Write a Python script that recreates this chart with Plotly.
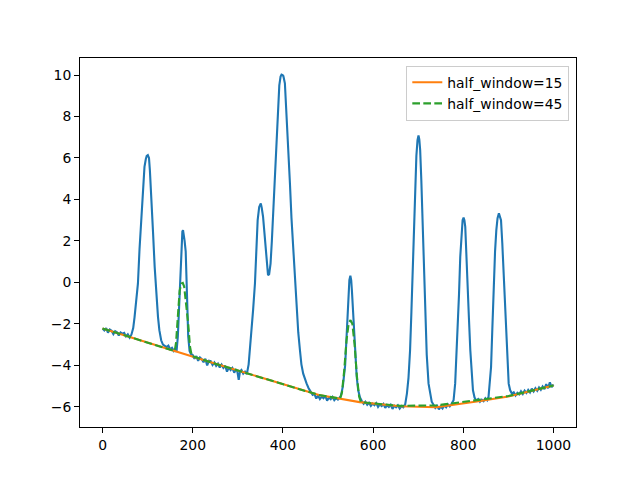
import plotly.graph_objects as go

# ---- data ----
signal_x = [0, 4, 8, 12, 16, 20, 24, 28, 32, 36, 40, 44, 48, 52, 56, 60, 64,
            68, 71, 75, 78.5, 82, 86, 90, 93, 96, 98, 100.5, 103, 105, 108, 112, 115.6, 119, 123, 126, 130, 134,
            138, 142, 146, 150, 154, 158, 161, 164,
            167, 170, 172, 175, 177, 178.5, 180, 182, 184.4, 186.5, 188, 190, 193, 196,
            200, 204, 208, 212, 216, 220, 224, 228, 232, 236, 240, 244, 248, 252, 256, 260, 264, 268,
            272, 276, 280, 284, 288, 292, 296, 299, 302, 305, 308, 312, 316, 320,
            324, 327, 330, 334, 338, 341.5, 344, 347.4, 351, 353, 356, 359, 362, 365, 367, 369.5, 372.6,
            375.5, 378.5, 381.5, 384.4, 387, 389.6, 392, 394.8, 397, 399.3, 401, 404.4, 407, 409.6,
            412.5, 415.6, 419, 423, 426.5, 430.4, 434, 437.8, 441, 445, 449, 452.6, 457, 462,
            466, 470, 474, 478, 482, 486, 490, 494, 498, 502, 506, 510, 514, 518, 522, 526,
            529, 533, 536, 538, 541, 543, 545.5, 547.4, 549.6, 551.5, 553, 555.5, 557.8, 560.5, 563.7, 567, 571,
            575, 579, 583, 587, 591, 595, 599, 603, 607, 611, 615, 619, 623, 627, 631, 635, 639, 643,
            647, 651, 655, 659, 663, 667, 671,
            675, 678.5, 682, 685, 688, 690.5, 693, 696, 698.5, 700.7, 702.5, 704.4, 707, 709.6, 712.5,
            715.6, 719, 723, 727, 730,
            734, 738, 742, 746, 750, 754, 758, 762, 766, 770, 774,
            778.5, 782, 785, 787.4, 790.5, 793.3, 796, 798.5, 800.7, 802.5, 804.4, 807, 809.6, 812.5,
            815.6, 818.5, 821.5, 825,
            829, 833, 837, 841, 845, 849, 853,
            856, 859, 861.6, 864.5, 867.4, 870.5, 873.3, 876, 879, 881.5, 883.7, 886.5, 889.6, 892.5,
            895.6, 898, 900.7, 904, 908,
            912, 916, 920, 924, 928, 932, 936, 940, 944, 948, 952, 956, 960, 964, 968, 972, 976, 980,
            984, 988, 992, 996, 1000]
signal_y = [-2.22, -2.31, -2.20, -2.42, -2.27, -2.33, -2.49, -2.35, -2.40, -2.56, -2.41, -2.47, -2.43, -2.60, -2.50, -2.66, -2.52,
            -2.20, -1.67, -0.90, -0.05, 1.60, 3.16, 4.70, 5.57, 5.95, 6.10, 6.14, 6.00, 5.40, 4.29, 2.40, 0.75, -0.60, -1.67, -2.30, -2.79, -3.00,
            -3.05, -3.12, -3.05, -3.22, -3.15, -3.30, -3.20, -3.35,
            -2.60, -1.00, 0.20, 2.00, 2.45, 2.52, 2.35, 2.00, 1.50, 0.00, -1.50, -2.60, -3.30, -3.45,
            -3.50, -3.68, -3.55, -3.78, -3.62, -3.70, -3.85, -3.68, -4.00, -3.78, -3.80, -3.98, -3.86, -4.02, -3.92, -4.10, -3.96, -4.12,
            -4.02, -4.30, -4.10, -4.22, -4.12, -4.35, -4.18, -4.30, -4.70, -4.28, -4.22, -4.40, -4.30, -4.42,
            -3.95, -3.27, -2.50, -1.30, -0.05, 2.00, 3.00, 3.64, 3.81, 3.60, 3.16, 2.40, 1.55, 0.70, 0.35, 0.40, 0.91,
            2.00, 3.48, 5.00, 6.38, 7.70, 8.79, 9.50, 9.92, 10.02, 10.00, 9.95, 9.60, 8.60, 7.19,
            6.00, 4.77, 3.10, 1.55, 0.10, -1.34, -2.40, -3.27, -3.95, -4.40, -4.70, -4.88, -5.10, -5.30,
            -5.42, -5.38, -5.60, -5.45, -5.62, -5.50, -5.58, -5.47, -5.70, -5.55, -5.63, -5.52, -5.68, -5.58, -5.65, -5.55,
            -5.45, -5.00, -4.40, -4.00, -2.70, -1.67, -0.50, 0.11, 0.32, 0.10, -0.38, -1.40, -2.47, -3.60, -4.56, -5.20, -5.55,
            -5.72, -5.85, -5.75, -5.90, -5.80, -5.95, -5.84, -5.92, -5.82, -6.00, -5.88, -5.96, -5.86, -6.05, -5.92, -6.00, -5.90, -6.10,
            -5.94, -6.02, -5.92, -6.08, -5.96, -6.02, -5.90,
            -5.36, -4.60, -3.27, -1.40, 0.75, 2.80, 4.77, 6.10, 6.86, 7.08, 6.90, 6.38, 4.90, 3.16, 0.90,
            -1.67, -3.50, -4.88, -5.50, -5.75,
            -5.90, -6.05, -5.95, -6.12, -5.98, -6.08, -5.92, -6.02, -5.88, -5.97, -5.85,
            -5.68, -4.88, -3.60, -2.47, -0.60, 1.23, 2.40, 3.00, 3.13, 3.00, 2.68, 1.50, -0.05, -1.70,
            -3.27, -4.40, -5.20, -5.55,
            -5.70, -5.62, -5.75, -5.65, -5.72, -5.58, -5.68,
            -5.52, -4.90, -4.08, -2.20, -0.05, 1.50, 2.52, 3.10, 3.33, 3.20, 3.00, 1.90, 0.27, -1.40,
            -2.95, -4.00, -4.88, -5.20, -5.36,
            -5.30, -5.45, -5.32, -5.40, -5.25, -5.38, -5.22, -5.33, -5.18, -5.30, -5.12, -5.26, -5.10, -5.22, -5.06, -5.18, -5.02, -5.14,
            -4.90, -5.10, -4.82, -5.05, -4.92]

hw15_x = [0, 240, 480, 570, 660, 740, 830, 900, 1000]
hw15_y = [-2.22, -3.85, -5.43, -5.77, -5.97, -6.02, -5.74, -5.50, -4.97]

hw45_x = [0, 160, 163, 167, 171, 175, 178, 181, 185, 190, 194, 198, 240, 480, 527, 531, 536, 541, 546, 550, 554, 559,
          564, 569, 573, 660, 740, 830, 900, 1000]
hw45_y = [-2.22, -3.31, -2.90, -1.50, -0.40, -0.05, -0.02, -0.20, -0.90, -2.00, -3.10, -3.55, -3.85, -5.43, -5.60, -5.30,
          -4.24, -2.80, -1.95, -1.82, -2.00, -3.00, -4.50, -5.50, -5.78, -5.95, -5.93, -5.68, -5.48, -4.97]

x_ticks = [0, 200, 400, 600, 800, 1000]
y_ticks = [-6, -4, -2, 0, 2, 4, 6, 8, 10]

FONT = "DejaVu Sans"

fig = go.Figure()
fig.add_trace(go.Scatter(x=signal_x, y=signal_y, mode="lines",
                         line=dict(color="#1f77b4", width=2.1), showlegend=False))
fig.add_trace(go.Scatter(x=hw15_x, y=hw15_y, mode="lines", name="half_window=15",
                         line=dict(color="#ff7f0e", width=2.1)))
fig.add_trace(go.Scatter(x=hw45_x, y=hw45_y, mode="lines", name="half_window=45",
                         line=dict(color="#2ca02c", width=2.1, dash="7.7px,3.3px")))

axis_common = dict(showgrid=False, zeroline=False, showline=True, linecolor="black", linewidth=1.1,
                   mirror=True, ticks="outside", ticklen=4.9, tickwidth=1.1, tickcolor="black",
                   tickfont=dict(family=FONT, size=13.9, color="black"))

fig.update_xaxes(range=[-50, 1050], tickvals=x_ticks, ticktext=[str(v) for v in x_ticks], **axis_common)
fig.update_yaxes(range=[-6.97, 10.82], tickvals=y_ticks,
                 ticktext=[("\u2212" + str(-v)) if v < 0 else str(v) for v in y_ticks], **axis_common)

fig.update_layout(
    width=640, height=480,
    margin=dict(l=80, r=64, t=58, b=53),
    paper_bgcolor="white", plot_bgcolor="white",
    font=dict(family=FONT, size=13.9, color="black"),
    legend=dict(x=0.9865, y=0.979, xanchor="right", yanchor="top",
                bgcolor="rgba(255,255,255,0.8)", bordercolor="#cccccc", borderwidth=1,
                font=dict(family=FONT, size=13.9, color="black"),
                tracegroupgap=0, itemwidth=30),
)

fig.write_html("out.html")
